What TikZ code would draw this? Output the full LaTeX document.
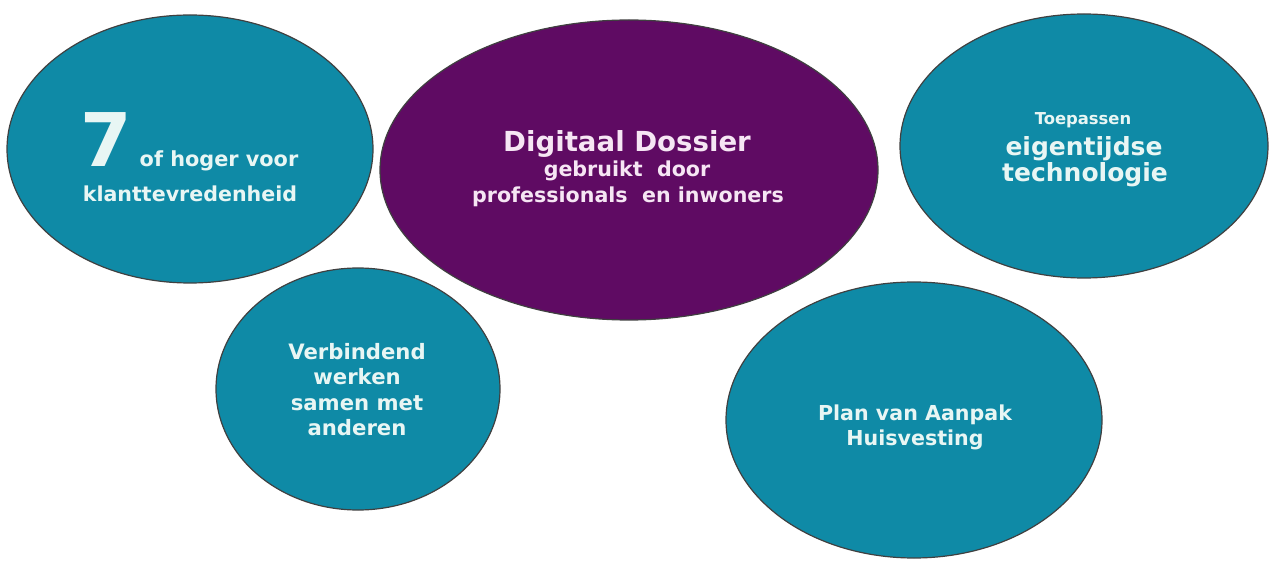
\documentclass[tikz,border=0pt]{standalone}
\usepackage{fontspec}
\setmainfont{DejaVu Sans}
\usetikzlibrary{shapes.geometric}
\definecolor{bubbleteal}{RGB}{15,138,166}
\definecolor{bubblepurple}{RGB}{95,11,99}
\definecolor{paletxt}{RGB}{232,246,244}
\definecolor{pinktxt}{RGB}{246,230,244}

\begin{document}
\begin{tikzpicture}[x=0.5pt, y=-0.5pt,
  bubble/.style={ellipse, draw=black!75, line width=0.6pt, fill=bubbleteal, inner sep=0pt},
  lbl/.style={text=paletxt, anchor=base, font=\bfseries\fontsize{10.5}{12}\selectfont}]
\useasboundingbox (0,0) rectangle (1274,561);
% the five bubbles, sizes in pt (= radius in px)
\node[bubble, minimum width=183pt, minimum height=134pt] (klant) at (190,149) {};
\node[bubble, fill=bubblepurple, minimum width=249pt, minimum height=150pt] (dossier) at (629,170) {};
\node[bubble, minimum width=184pt, minimum height=132pt] (techniek) at (1084,146) {};
\node[bubble, minimum width=142pt, minimum height=121pt] (verbind) at (358,389) {};
\node[bubble, minimum width=188pt, minimum height=138pt] (huis) at (914,420) {};
% texts
\node[lbl, font=\bfseries\fontsize{37}{40}\selectfont] (seven) at (106,167) {7};
\node[lbl, font=\bfseries\fontsize{10.4}{12}\selectfont] (hoger) at (219,167) {of hoger voor};
\node[lbl, font=\bfseries\fontsize{10.3}{12}\selectfont] (tevreden) at (190,202) {klanttevredenheid};
\node[lbl, text=pinktxt, font=\bfseries\fontsize{13.8}{16}\selectfont] (digitaal) at (627,152) {Digitaal Dossier};
\node[lbl, text=pinktxt, font=\bfseries\fontsize{10.3}{12}\selectfont] (gebruikt) at (627,177) {gebruikt\ \ door};
\node[lbl, text=pinktxt, font=\bfseries\fontsize{10.3}{12}\selectfont] (inwoners) at (628,203) {professionals\ \ en inwoners};
\node[lbl, font=\bfseries\fontsize{8.2}{10}\selectfont] (toepassen) at (1083,125) {Toepassen};
\node[lbl, font=\bfseries\fontsize{12.5}{14}\selectfont] (eigen) at (1084,156) {eigentijdse};
\node[lbl, font=\bfseries\fontsize{12.5}{14}\selectfont] (techno) at (1085,182) {technologie};
\foreach \y/\t [count=\i] in {359/Verbindend, 384/werken, 410/samen met, 435/anderen}
  \node[lbl, font=\bfseries\fontsize{10.6}{12}\selectfont] (verbind\i) at (357,\y) {\t};
\node[lbl, font=\bfseries\fontsize{10.3}{12}\selectfont] (aanpak) at (915,420) {Plan van Aanpak};
\node[lbl, font=\bfseries\fontsize{10.3}{12}\selectfont] (vesting) at (915,445) {Huisvesting};
\end{tikzpicture}
\end{document}
